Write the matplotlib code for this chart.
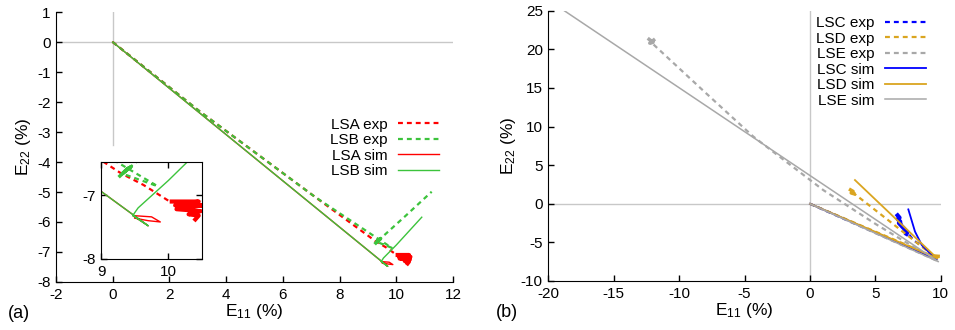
import numpy as np
import matplotlib.pyplot as plt

plt.rcParams['font.family'] = ['Liberation Sans', 'DejaVu Sans']
plt.rcParams['mathtext.default'] = 'regular'
plt.rcParams['axes.unicode_minus'] = False
plt.rcParams['font.size'] = 11

# -----------------------------------------------------------
# Panel (a) data: E11 / E22 strain paths (%)
# -----------------------------------------------------------
lsa_exp_x = [0, 3.08, 7.13, 9.3, 9.63, 10.02]
lsa_exp_y = [0, -2.32, -5.16, -6.66, -6.84, -7.1]
lsa_blob_x = [10.05, 10.45, 10.1, 10.5, 10.12, 10.48, 10.3, 10.45, 10.4]
lsa_blob_y = [-7.1, -7.1, -7.16, -7.16, -7.22, -7.25, -7.3, -7.32, -7.38]

lsb_exp_x = [0, 3.08, 7.13, 9.84, 9.31, 9.6, 10.3, 11.25]
lsb_exp_y = [0, -2.32, -5.16, -6.86, -6.66, -6.42, -5.82, -4.99]
lsb_blob_x = [9.28, 9.4, 9.32, 9.45, 9.36]
lsb_blob_y = [-6.7, -6.58, -6.66, -6.55, -6.62]

lsa_sim_x = [0, 9.7, 9.47, 9.75, 9.88, 9.7, 9.5]
lsa_sim_y = [0, -7.48, -7.32, -7.34, -7.42, -7.4, -7.36]

lsb_sim_x = [0, 9.7, 9.47, 9.55, 10.0, 10.9]
lsb_sim_y = [0, -7.48, -7.32, -7.2, -6.77, -5.84]

# -----------------------------------------------------------
# Panel (b) data
# -----------------------------------------------------------
lsc_exp_x = [0, 9.6, 9.0, 7.9, 7.4, 6.76]
lsc_exp_y = [0, -7.2, -6.0, -4.7, -3.6, -1.9]
lsc_blob_x = [6.7, 6.85, 6.72, 6.9, 6.8, 7.35, 7.45, 7.38]
lsc_blob_y = [-1.5, -1.8, -2.0, -2.3, -2.5, -3.5, -3.7, -3.9]

lsd_exp_x = [0, 9.7, 9.45, 6.0, 3.2]
lsd_exp_y = [0, -7.0, -6.75, -2.15, 1.55]
lsd_blob_x = [3.1, 3.3, 3.15, 3.35, 9.4, 9.8]
lsd_blob_y = [1.8, 1.6, 1.4, 1.3, -6.75, -6.8]

lse_exp_x = [0, 9.6, 5.0, 1.02, -4.33, -8.0, -12.2]
lse_exp_y = [0, -7.3, -2.6, 1.77, 8.7, 14.4, 21.0]
lse_blob_x = [-12.3, -12.0, -12.25, -11.95]
lse_blob_y = [21.3, 20.9, 20.8, 21.2]

lsc_sim_x = [0, 9.7, 9.6, 9.05, 8.55, 8.03, 7.52]
lsc_sim_y = [0, -7.2, -7.0, -6.2, -5.35, -3.6, -0.73]

lsd_sim_x = [0, 9.75, 3.44]
lsd_sim_y = [0, -7.1, 3.07]

lse_sim_x = [0, 9.82, -18.78]
lse_sim_y = [0, -7.5, 25.0]

red = '#ff0000'
green = '#3cc33c'
blue = '#0000ff'
gold = '#daa520'
grey = '#a8a8a8'
zero_c = '#c8c8c8'
dash = (0, (2.2, 1.8))


def style(ax, mirror=False):
    for side in ['top', 'right']:
        ax.spines[side].set_visible(mirror)
    ax.tick_params(direction='in', length=4, width=1,
                   top=mirror, right=mirror, pad=4, labelsize=11)


leg_kw = dict(frameon=False, markerfirst=False, handlelength=2.7,
              handletextpad=0.65, labelspacing=0.1, borderpad=0,
              borderaxespad=0, fontsize=11)

fig = plt.figure(figsize=(9.55, 3.3), dpi=100)

# ---------------- (a) ----------------
ax = fig.add_axes([0.0586, 0.1455, 0.4157, 0.818])
style(ax)
ax.axhline(0, color=zero_c, lw=1, zorder=0)
ax.axvline(0, ymin=0.506, ymax=1, color=zero_c, lw=1, zorder=0)

ax.plot(lsa_exp_x, lsa_exp_y, color=red, lw=1.6, ls=dash, label='LSA exp')
ax.plot(lsa_blob_x, lsa_blob_y, color=red, lw=3)
ax.plot(lsb_exp_x, lsb_exp_y, color=green, lw=1.6, ls=dash, label='LSB exp')
ax.plot(lsb_blob_x, lsb_blob_y, color=green, lw=2.5)
ax.plot(lsa_sim_x, lsa_sim_y, color=red, lw=1.0, label='LSA sim')
ax.plot(lsb_sim_x, lsb_sim_y, color=green, lw=1.0, label='LSB sim')

ax.set_xlim(-2, 12)
ax.set_ylim(-8, 1)
ax.set_xticks(np.arange(-2, 13, 2))
ax.set_yticks(np.arange(-8, 2, 1))
ax.set_xlabel('E$_{11}$ (%)', fontsize=12.5, labelpad=0)
ax.set_ylabel('E$_{22}$ (%)', fontsize=12.5, labelpad=3)
ax.legend(loc='upper right', bbox_to_anchor=(0.965, 0.609), **leg_kw)
fig.text(0.008, 0.035, '(a)', fontsize=13)

# inset
axi = fig.add_axes([0.1058, 0.2152, 0.1058, 0.294])
style(axi, mirror=True)
axi.plot(lsa_exp_x, lsa_exp_y, color=red, lw=1.6, ls=dash)
axi.plot(lsa_blob_x, lsa_blob_y, color=red, lw=3)
axi.plot(lsb_exp_x, lsb_exp_y, color=green, lw=1.6, ls=dash)
axi.plot(lsb_blob_x, lsb_blob_y, color=green, lw=2.5)
axi.plot(lsa_sim_x, lsa_sim_y, color=red, lw=1.0)
axi.plot(lsb_sim_x, lsb_sim_y, color=green, lw=1.0)
axi.set_xlim(9, 10.5)
axi.set_ylim(-8, -6.48)
axi.set_xticks([9, 10])
axi.set_yticks([-8, -7])

# ---------------- (b) ----------------
bx = fig.add_axes([0.5742, 0.1485, 0.4109, 0.819])
style(bx)
bx.axhline(0, color=zero_c, lw=1, zorder=0)
bx.axvline(0, color=zero_c, lw=1, zorder=0)

bx.plot(lsc_exp_x, lsc_exp_y, color=blue, lw=1.6, ls=dash, label='LSC exp')
bx.plot(lsc_blob_x, lsc_blob_y, color=blue, lw=3)
bx.plot(lsd_exp_x, lsd_exp_y, color=gold, lw=1.6, ls=dash, label='LSD exp')
bx.plot(lsd_blob_x[:4], lsd_blob_y[:4], color=gold, lw=2.5)
bx.plot(lsd_blob_x[4:], lsd_blob_y[4:], color=gold, lw=2.5)
bx.plot(lse_exp_x, lse_exp_y, color=grey, lw=1.6, ls=dash, label='LSE exp')
bx.plot(lse_blob_x, lse_blob_y, color=grey, lw=2.5)
bx.plot(lsc_sim_x, lsc_sim_y, color=blue, lw=1.3, label='LSC sim')
bx.plot(lsd_sim_x, lsd_sim_y, color=gold, lw=1.3, label='LSD sim')
bx.plot(lse_sim_x, lse_sim_y, color=grey, lw=1.1, label='LSE sim')

bx.set_xlim(-20, 10)
bx.set_ylim(-10, 25)
bx.set_xticks(np.arange(-20, 11, 5))
bx.set_yticks(np.arange(-10, 26, 5))
bx.set_xlabel('E$_{11}$ (%)', fontsize=12.5, labelpad=0)
bx.set_ylabel('E$_{22}$ (%)', fontsize=12.5, labelpad=2)
bx.legend(loc='upper right', bbox_to_anchor=(0.9625, 0.98), **leg_kw)
fig.text(0.519, 0.038, '(b)', fontsize=13)

fig.savefig('out.png', dpi=100)
